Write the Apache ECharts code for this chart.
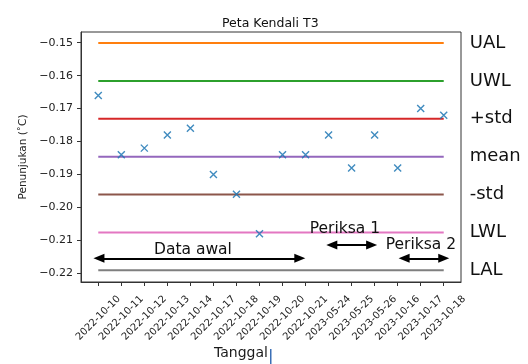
<!DOCTYPE html>
<html>
<head>
<meta charset="utf-8">
<script src="https://cdn.jsdelivr.net/npm/echarts@6/dist/echarts.min.js"></script>
<style>html,body{margin:0;padding:0;background:#fff}#c{width:528px;height:364px}</style>
</head>
<body>
<div id="c"></div>
<script>
// ---- data ----
const categories = ['2022-10-10','2022-10-11','2022-10-12','2022-10-13','2022-10-14','2022-10-17','2022-10-18','2022-10-19','2022-10-20','2022-10-21','2023-05-24','2023-05-25','2023-05-26','2023-10-16','2023-10-17','2023-10-18'];
const readings = [-0.166,-0.184,-0.182,-0.178,-0.176,-0.190,-0.196,-0.208,-0.184,-0.184,-0.178,-0.188,-0.178,-0.188,-0.170,-0.172];
const limitNames = ['UAL','UWL','+std','mean','-std','LWL','LAL'];
const limitValues = [-0.1501,-0.1616,-0.1731,-0.1846,-0.1961,-0.2076,-0.2191];
const yTicks = [-0.22,-0.21,-0.20,-0.19,-0.18,-0.17,-0.16,-0.15];
const annotationTexts = ['Data awal','Periksa 1','Periksa 2'];
// annotation placement (category units / axis values)
const annotationTextPos = [[4.11,-0.2128],[10.71,-0.2066],[14.01,-0.2114]];
const annotationArrows = [[0.03,8.75,-0.21545],[10.14,11.87,-0.21141],[13.28,15.0,-0.21545]];

// ---- styles ----
const FONT = 'DejaVu Sans';
const limitColors = ['#ff7f0e','#2ca02c','#d62728','#9467bd','#8c564b','#e377c2','#7f7f7f'];
const markerPath = 'path://M0,0L10,10M10,0L0,10';

const chart = echarts.init(document.getElementById('c'), null, {renderer:'canvas'});
const idx = categories.map((_, i) => i);
const last = categories.length - 1;

const series = [];
limitNames.forEach((n, i) => {
  series.push({
    name: n, type: 'line', silent: true, symbol: 'none',
    data: [[0, limitValues[i]], [last, limitValues[i]]],
    lineStyle: {color: limitColors[i], width: 2},
    endLabel: {show: true, formatter: '{a}', distance: 26, fontFamily: FONT, fontSize: 18, color: '#111'},
    z: 2
  });
});
series.push({
  name: 'data', type: 'scatter',
  data: readings.map((v, i) => [i, v]),
  symbol: markerPath, symbolSize: 7,
  itemStyle: {color: 'none', borderColor: '#1f77b4', borderWidth: 1.4, opacity: 0.85},
  z: 5
});
series.push({
  name: 'arrows', type: 'line', data: [], silent: true,
  markLine: {
    silent: true, animation: false,
    symbol: ['triangle','triangle'], symbolSize: [9, 11],
    lineStyle: {color: '#000', width: 2, type: 'solid'},
    label: {show: false},
    data: annotationArrows.map(a => [{coord: [a[0], a[2]]}, {coord: [a[1], a[2]]}])
  }
});
series.push({
  name: 'annot', type: 'scatter', silent: true, symbolSize: 0,
  data: annotationTexts.map((t, i) => ({value: annotationTextPos[i], name: t})),
  itemStyle: {color: '#000', opacity: 1},
  label: {show: true, position: 'inside', formatter: p => p.name, fontFamily: FONT, fontSize: 15.5, color: '#111', textBorderWidth: 0},
  z: 6
});

chart.setOption({
  animation: false,
  backgroundColor: '#fff',
  title: {text: 'Peta Kendali T3', left: 217, top: 12, textStyle: {fontFamily: FONT, fontSize: 12.5, fontWeight: 'normal', color: '#111'}},
  grid: {left: 81, top: 32, right: 67, bottom: 82, show: true, borderColor: '#333', borderWidth: 1, backgroundColor: 'transparent'},
  xAxis: {
    type: 'value', min: -0.75, max: 15.75,
    splitLine: {show: false},
    axisLine: {show: true, onZero: false, lineStyle: {color: '#333'}},
    axisTick: {show: true, customValues: idx, length: 4, lineStyle: {color: '#333'}},
    axisLabel: {customValues: idx, formatter: v => categories[v] || '', rotate: 45, align: 'center', verticalAlign: 'middle', margin: 36, fontFamily: FONT, fontSize: 10, color: '#222'}
  },
  yAxis: {
    type: 'value', min: -0.22264, max: -0.14675,
    name: 'Penunjukan (˚C)', nameLocation: 'middle', nameGap: 52,
    nameTextStyle: {fontFamily: FONT, fontSize: 10.5, color: '#222'},
    splitLine: {show: false},
    axisLine: {show: true, onZero: false, lineStyle: {color: '#333'}},
    axisTick: {show: true, customValues: yTicks, length: 4, lineStyle: {color: '#333'}},
    axisLabel: {customValues: yTicks, formatter: v => v.toFixed(2).replace('-', '\u2212'), margin: 8, fontFamily: FONT, fontSize: 11, color: '#222'}
  },
  graphic: [
    {type: 'text', left: 214, top: 346, style: {text: 'Tanggal', font: '14px "DejaVu Sans"', fill: '#1a1a1a'}},
    {type: 'rect', left: 270, top: 349, shape: {width: 1.5, height: 15}, style: {fill: '#3b6fb6'}}
  ],
  series: series
});
</script>
</body>
</html>
